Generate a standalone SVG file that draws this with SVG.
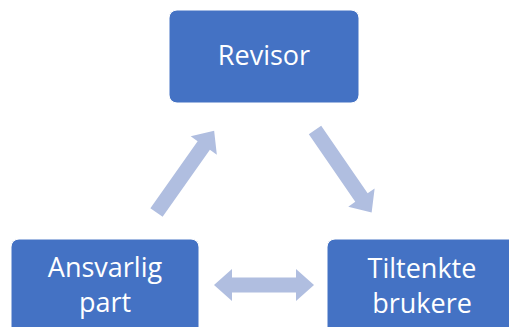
<svg xmlns="http://www.w3.org/2000/svg" width="509" height="327" viewBox="0 0 509 327">
<style>
.box{fill:#4472C4;stroke:#ffffff;stroke-width:1}
.lbl{font-family:"Open Sans","Liberation Sans",sans-serif;font-size:27px;fill:#ffffff;text-anchor:middle}
.arr{fill:#B0BEE0}
</style>
<defs>
<polygon id="arrowShape" points="0,-7.5 82,-7.5 82,-16 100,0 82,16 82,7.5 0,7.5"/>
</defs>
<g id="connectors">
<use href="#arrowShape" class="arr" transform="translate(156.5,212.5) rotate(-54.8)"/>
<use href="#arrowShape" class="arr" transform="translate(315,130) rotate(55.5)"/>
<polygon class="arr" points="214,285 232,269 232,277.5 296,277.5 296,269 314,285 296,301 296,292.5 232,292.5 232,301"/>
</g>
<g id="revisor">
<rect class="box" x="169" y="10" width="190" height="93" rx="8"/>
<text class="lbl" x="264" y="65">Revisor</text>
</g>
<g id="ansvarlig">
<rect class="box" x="11" y="239" width="188" height="100" rx="8"/>
<text class="lbl" x="105" y="277">Ansvarlig</text>
<text class="lbl" x="105" y="312">part</text>
</g>
<g id="tiltenkte">
<rect class="box" x="327" y="239" width="190" height="100" rx="8"/>
<text class="lbl" x="422" y="278">Tiltenkte</text>
<text class="lbl" x="422" y="313">brukere</text>
</g>
</svg>
